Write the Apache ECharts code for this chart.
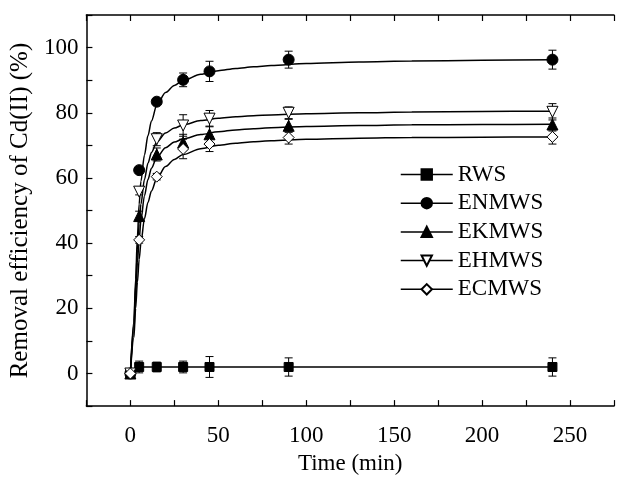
<!DOCTYPE html>
<html>
<head>
<meta charset="utf-8">
<script src="https://cdn.jsdelivr.net/npm/echarts@6/dist/echarts.min.js"></script>
<style>html,body{margin:0;padding:0;background:#fff}#c{width:617px;height:480px}</style>
</head>
<body>
<div id="c"></div>
<script>
// measured points
const times = [0, 5, 15, 30, 45, 90, 240];
const rwsValues   = [0, 2.0, 2.0, 2.0, 2.0, 2.0, 2.0];
const enmwsValues = [0, 62.4, 83.4, 90.1, 92.7, 96.3, 96.3];
const ekmwsValues = [0, 48.3, 67.2, 70.9, 73.4, 76.0, 76.4];
const ehmwsValues = [0, 55.8, 71.9, 76.1, 78.2, 80.0, 80.3];
const ecmwsValues = [0, 41.0, 60.4, 68.9, 70.4, 72.4, 72.6];
// error bars (±)
const rwsErr   = [0, 1.8, 1.5, 1.8, 3.2, 2.8, 2.8];
const enmwsErr = [0, 0.8, 0.8, 2.1, 3.1, 2.6, 2.9];
const ekmwsErr = [0, 1.5, 2.0, 2.5, 2.5, 2.0, 2.0];
const ehmwsErr = [0, 1.0, 2.0, 3.3, 2.5, 1.8, 2.5];
const ecmwsErr = [0, 1.0, 1.0, 3.0, 2.3, 2.0, 2.2];
// fitted curves
const fitTimes = [0, 2, 3, 4, 5, 6, 8, 10, 12, 15, 20, 25, 30, 40, 50, 60, 70, 80, 100, 130, 160, 200, 240];
const enmwsFit = [0, 16, 29, 42, 52, 59, 67, 73, 77.5, 82.3, 86.2, 88.4, 89.9, 91.8, 92.9, 93.6, 94.1, 94.5, 95.1, 95.6, 95.9, 96.1, 96.3];
const ehmwsFit = [0, 15, 27, 38, 46, 52, 59.5, 64.5, 67.8, 71, 73.8, 75.3, 76.3, 77.6, 78.3, 78.8, 79.1, 79.35, 79.7, 80.0, 80.2, 80.4, 80.5];
const ekmwsFit = [0, 13, 24, 34, 41, 47, 54.5, 59.5, 63, 66.3, 69.3, 71, 72, 73.3, 74.2, 74.75, 75.1, 75.4, 75.8, 76.1, 76.3, 76.4, 76.5];
const ecmwsFit = [0, 11, 20, 28, 35, 40, 47.5, 52.5, 56, 59.8, 63.5, 65.7, 67.2, 69, 70, 70.65, 71.1, 71.4, 71.85, 72.2, 72.4, 72.5, 72.6];
const seriesNames = ['RWS', 'ENMWS', 'EKMWS', 'EHMWS', 'ECMWS'];
const xTickLabels = [0, 50, 100, 150, 200, 250];
const yTickLabels = [0, 20, 40, 60, 80, 100];
const xTitle = 'Time (min)';
const yTitle = 'Removal efficiency of Cd(II) (%)';

const FONT = 'Liberation Serif';
const pairs = (xs, ys) => xs.map((x, i) => [x, ys[i]]);

function pointSeries(name, vals, symbol, size, filled, rotate, showLine) {
  return {
    name: name, type: 'line', data: pairs(times, vals),
    symbol: symbol, symbolSize: size, symbolRotate: rotate || 0,
    showAllSymbol: true,
    itemStyle: { color: filled ? '#000' : '#fff', borderColor: '#000', borderWidth: 1 },
    lineStyle: { color: '#000', width: 1.5, opacity: showLine ? 1 : 0 },
    z: 5, animation: false
  };
}
function fitSeries(name, vals) {
  return {
    name: name + ' fit', type: 'line', data: pairs(fitTimes, vals),
    symbol: 'none', smooth: 0.3, smoothMonotone: 'x',
    lineStyle: { color: '#000', width: 1.5 }, z: 3, animation: false
  };
}
function errSeries(vals, errs) {
  return {
    type: 'custom', data: times.map((t, i) => [t, vals[i], errs[i]]),
    encode: { x: 0, y: 1 }, z: 4, silent: true, animation: false,
    renderItem: function (params, api) {
      const x = api.value(0), y = api.value(1), e = api.value(2);
      if (!e) return null;
      const top = api.coord([x, y + e]), bot = api.coord([x, y - e]);
      const hw = 4, st = { stroke: '#000', lineWidth: 1 };
      return { type: 'group', children: [
        { type: 'line', shape: { x1: top[0], y1: top[1], x2: bot[0], y2: bot[1] }, style: st },
        { type: 'line', shape: { x1: top[0] - hw, y1: top[1], x2: top[0] + hw, y2: top[1] }, style: st },
        { type: 'line', shape: { x1: bot[0] - hw, y1: bot[1], x2: bot[0] + hw, y2: bot[1] }, style: st }
      ]};
    }
  };
}

const axisCommon = {
  axisLine: { onZero: false, lineStyle: { color: '#000', width: 1.5 } },
  axisTick: { inside: true, length: 6, lineStyle: { color: '#000', width: 1.2 } },
  splitLine: { show: false }
};

const chart = echarts.init(document.getElementById('c'), null, { renderer: 'canvas' });
chart.setOption({
  animation: false,
  backgroundColor: '#fff',
  grid: { left: 85, top: 15, width: 543, height: 398 },
  xAxis: [
    Object.assign({}, axisCommon, {
      type: 'value', min: -25, max: 275, interval: 25, position: 'bottom',
      name: xTitle, nameLocation: 'middle', nameGap: 43,
      nameTextStyle: { fontFamily: FONT, fontSize: 23, color: '#000' },
      axisLabel: { margin: 18, fontFamily: FONT, fontSize: 23, color: '#000',
        formatter: v => xTickLabels.indexOf(v) >= 0 ? String(v) : '' }
    }),
    Object.assign({}, axisCommon, {
      type: 'value', min: -25, max: 275, interval: 25, position: 'top',
      axisLabel: { show: false }
    })
  ],
  yAxis: [
    Object.assign({}, axisCommon, {
      type: 'value', min: -10, max: 110, interval: 10,
      name: yTitle, nameLocation: 'middle', nameGap: 50, nameRotate: 90,
      nameTextStyle: { fontFamily: FONT, fontSize: 25, color: '#000' },
      axisLabel: { margin: 8, fontFamily: FONT, fontSize: 23, color: '#000',
        formatter: v => yTickLabels.indexOf(v) >= 0 ? String(v) : '' }
    })
  ],
  legend: {
    data: seriesNames, orient: 'vertical', left: 400, top: 163, padding: 0,
    itemWidth: 52, itemHeight: 13, itemGap: 5.7,
    lineStyle: { color: '#000', width: 1.5, opacity: 1 },
    textStyle: { fontFamily: FONT, fontSize: 23, color: '#000', lineHeight: 23 },
    selectedMode: false
  },
  series: [
    fitSeries('ENMWS', enmwsFit),
    fitSeries('EKMWS', ekmwsFit),
    fitSeries('EHMWS', ehmwsFit),
    fitSeries('ECMWS', ecmwsFit),
    errSeries(rwsValues, rwsErr),
    errSeries(enmwsValues, enmwsErr),
    errSeries(ekmwsValues, ekmwsErr),
    errSeries(ehmwsValues, ehmwsErr),
    errSeries(ecmwsValues, ecmwsErr),
    pointSeries('RWS', rwsValues, 'rect', 9, true, 0, true),
    pointSeries('ENMWS', enmwsValues, 'circle', 11, true, 0, false),
    pointSeries('EKMWS', ekmwsValues, 'triangle', 11, true, 0, false),
    pointSeries('EHMWS', ehmwsValues, 'triangle', 11, false, 180, false),
    pointSeries('ECMWS', ecmwsValues, 'diamond', 11, false, 0, false)
  ]
});
</script>
</body>
</html>
